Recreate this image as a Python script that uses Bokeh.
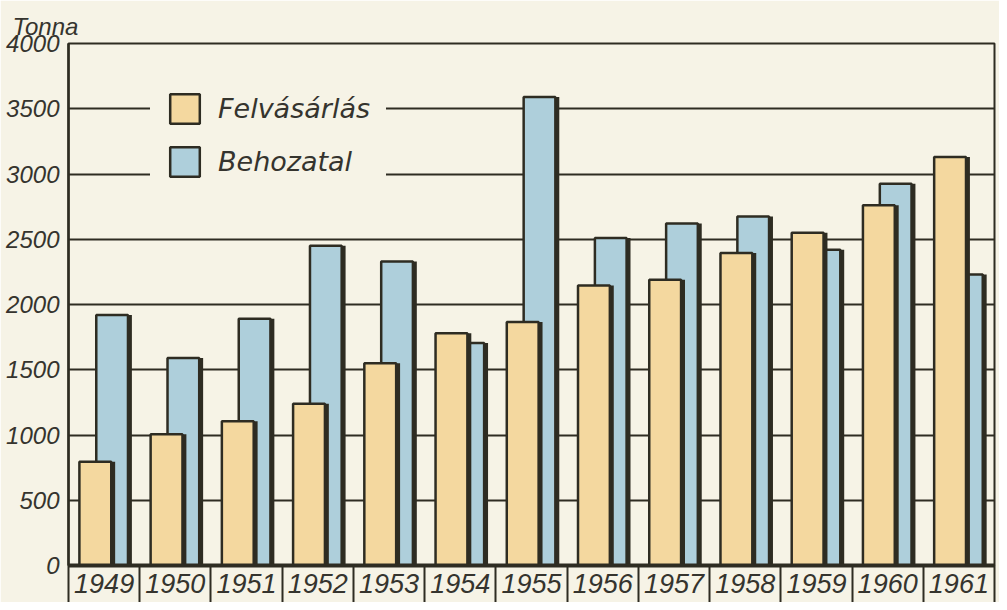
from bokeh.plotting import figure
from bokeh.models import Range1d, FixedTicker, Legend, LegendItem, ColumnDataSource
from bokeh.embed import file_html
from bokeh.resources import INLINE

years = ["1949", "1950", "1951", "1952", "1953", "1954", "1955",
         "1956", "1957", "1958", "1959", "1960", "1961"]
felvasarlas = [795, 1005, 1105, 1240, 1550, 1780, 1865, 2145, 2190, 2395, 2550, 2760, 3130]
behozatal = [1920, 1590, 1890, 2450, 2330, 1705, 3590, 2510, 2620, 2675, 2420, 2925, 2230]
y_ticks = [0, 500, 1000, 1500, 2000, 2500, 3000, 3500, 4000]

BG = "#f6f3e6"
YEL = "#f4d89f"
BLU = "#aecfdb"
DARK = "#2e2c22"
TXT = "#35342e"

n = len(years)
idx = list(range(n))

# layout offsets inside each year slot (slot width = 1)
Y_L, Y_R = 0.153, 0.60
B_L, B_R = 0.39, 0.835
SH = 0.055

src = ColumnDataSource(dict(
    yl=[i + Y_L for i in idx], yr=[i + Y_R for i in idx], yrs=[i + Y_R + SH for i in idx],
    bl=[i + B_L for i in idx], br=[i + B_R for i in idx], brs=[i + B_R + SH for i in idx],
    f=felvasarlas, b=behozatal, zero=[0] * n,
))

p = figure(width=999, height=602, output_backend="svg", toolbar_location=None,
           x_range=Range1d(0, n), y_range=Range1d(0, 4000),
           min_border_left=68, min_border_right=5, min_border_top=43, min_border_bottom=37)
p.background_fill_color = BG
p.border_fill_color = BG
p.outline_line_color = DARK
p.outline_line_width = 2

# unit label as title, shifted left over the tick labels
p.title.text = "Tonna"
p.title.align = "left"
p.title.offset = -56
p.title.standoff = 8
p.title.text_font = "Liberation Sans"
p.title.text_font_style = "italic"
p.title.text_font_size = "24px"
p.title.text_color = TXT

# bars: blue behind, yellow in front, each with a dark right-hand shadow
p.quad(left="bl", right="brs", bottom="zero", top="b", source=src,
       fill_color=DARK, line_color=None)
blue = p.quad(left="bl", right="br", bottom="zero", top="b", source=src,
              fill_color=BLU, line_color=DARK, line_width=2.5)
p.quad(left="yl", right="yrs", bottom="zero", top="f", source=src,
       fill_color=DARK, line_color=None)
yel = p.quad(left="yl", right="yr", bottom="zero", top="f", source=src,
             fill_color=YEL, line_color=DARK, line_width=2.5)

# grid
p.xgrid.visible = False
p.ygrid.ticker = FixedTicker(ticks=y_ticks)
p.ygrid.grid_line_color = DARK
p.ygrid.grid_line_width = 2

# y axis
ya = p.yaxis[0]
ya.ticker = FixedTicker(ticks=y_ticks)
ya.axis_line_color = DARK
ya.axis_line_width = 2.5
ya.major_tick_out = 0
ya.major_tick_in = 0
ya.minor_tick_out = 0
ya.minor_tick_in = 0
ya.major_label_standoff = 9
ya.major_label_text_font = "Liberation Sans"
ya.major_label_text_font_style = "italic"
ya.major_label_text_font_size = "24px"
ya.major_label_text_color = TXT

# x axis: year labels centred in slots, separators as minor ticks
xa = p.xaxis[0]
xa.ticker = FixedTicker(ticks=[i + 0.5 for i in idx], minor_ticks=list(range(n + 1)))
xa.major_label_overrides = {i + 0.5: years[i] for i in idx}
xa.axis_line_color = DARK
xa.axis_line_width = 4
xa.major_tick_out = 0
xa.major_tick_in = 0
xa.minor_tick_out = 37
xa.minor_tick_in = 0
xa.minor_tick_line_color = DARK
xa.minor_tick_line_width = 2
xa.major_label_standoff = -29
xa.major_label_text_font = "Liberation Sans"
xa.major_label_text_font_style = "italic"
xa.major_label_text_font_size = "27px"
xa.major_label_text_color = TXT

legend = Legend(items=[LegendItem(label="Felvásárlás", renderers=[yel]),
                       LegendItem(label="Behozatal", renderers=[blue])],
                location=(82, 369), orientation="vertical",
                glyph_width=37, glyph_height=37, label_standoff=15, spacing=16,
                padding=16, margin=0, label_height=37,
                label_text_font="DejaVu Sans", label_text_font_style="italic",
                label_text_font_size="27px", label_text_color=TXT,
                background_fill_color=BG, background_fill_alpha=1.0,
                border_line_alpha=0)
p.add_layout(legend, "center")

open("out.html", "w").write(file_html(p, INLINE))
